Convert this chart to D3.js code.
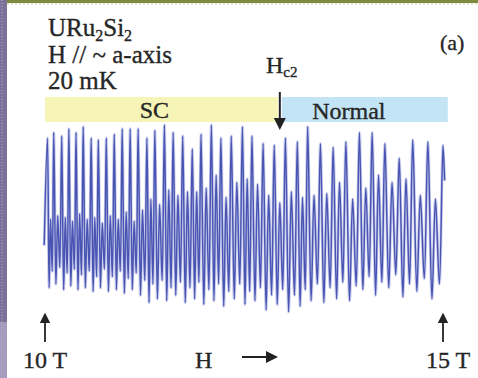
<!DOCTYPE html>
<html>
<head>
<meta charset="utf-8">
<script src="https://cdn.jsdelivr.net/npm/d3@7/dist/d3.min.js"></script>
<style>
  html, body { margin: 0; padding: 0; background: #fff; }
  svg { display: block; }
  text { font-family: "Liberation Serif", "Times New Roman", serif; fill: #262626; stroke: #262626; stroke-width: 0.35; }
</style>
</head>
<body>
<div id="chart"></div>
<script>
// field (T) of the main (tall) oscillation peaks
const peakField = [10.03, 10.11, 10.21, 10.30, 10.39, 10.48, 10.58, 10.67, 10.77, 10.87,
  10.97, 11.07, 11.17, 11.28, 11.38, 11.50, 11.61, 11.73, 11.85, 11.96,
  12.09, 12.21, 12.34, 12.48, 12.60, 12.74, 12.88, 13.02, 13.17, 13.30,
  13.46, 13.62, 13.78, 13.95, 14.11, 14.27, 14.45, 14.62, 14.81, 15.00];
// signal (a.u.) at tall peaks
const peakVal = [93, 96, 94, 98, 96, 99, 93, 92, 93, 95, 98, 98, 98, 93, 97, 100, 96, 94, 87, 95,
  100, 93, 94, 99, 94, 90, 89, 93, 91, 99, 90, 88, 91, 96, 96, 90, 82, 92, 91, 89];
// between two tall peaks: deep trough, secondary peak, shallow trough
const trough1Val = [12, 14, 11, 13, 11, 12, 10, 12, 10, 11, 9, 11, 8, 4, 6, 5, 8, 4, 6, 3,
  5, 2, 6, 3, 5, 0, 3, -1, 2, 5, 4, 6, 5, 11, 8, 12, 7, 10, 6];
const secondVal = [49, 51, 50, 48, 52, 49, 50, 47, 51, 49, 53, 48, 54, 60, 57, 65, 62, 64, 64, 66,
  73, 61, 69, 71, 68, 62, 58, 64, 61, 62, 63, 69, 60, 66, 73, 69, 71, 62, 60];
const trough2Val = [21, 23, 20, 22, 19, 21, 18, 22, 18, 21, 17, 20, 16, 14, 16, 12, 15, 12, 15, 11,
  14, 10, 14, 10, 12, 8, 11, 8, 11, 14, 12, 15, 13, 18, 15, 19, 14, 17, 14];
const leadIn = [9.99, 35];
const tailOut = [15.02, 70];
const hc2 = 12.95;
const fieldStart = 10, fieldEnd = 15;

const W = 478, H = 378;
const svg = d3.select("#chart").append("svg").attr("width", W).attr("height", H);

// slide frame bits
svg.append("rect").attr("x", 0).attr("y", 0).attr("width", 7).attr("height", H).attr("fill", "#7c7199");
svg.append("rect").attr("x", 0).attr("y", 322).attr("width", 7).attr("height", 56).attr("fill", "#a49bbd");
svg.append("line").attr("x1", 2).attr("x2", 2).attr("y1", 0).attr("y2", H)
  .attr("stroke", "#b3aacb").attr("stroke-width", 1).attr("stroke-dasharray", "1,2");
svg.append("rect").attr("x", 7).attr("y", 0).attr("width", W - 7).attr("height", 3).attr("fill", "#7f8c40");
svg.append("line").attr("x1", 7).attr("x2", W).attr("y1", 4).attr("y2", 4)
  .attr("stroke", "#c9cfa5").attr("stroke-width", 1).attr("stroke-dasharray", "2,2");

const x = d3.scaleLinear().domain([fieldStart, fieldEnd]).range([45, 443]);
const y = d3.scaleLinear().domain([0, 100]).range([310, 125]);

// bands
svg.append("rect").attr("x", x(fieldStart)).attr("y", 97).attr("width", x(hc2) - x(fieldStart) - 2).attr("height", 25)
  .attr("fill", "#f6f4b6");
svg.append("rect").attr("x", x(hc2) + 2).attr("y", 97).attr("width", x(15.06) - x(hc2) - 2).attr("height", 25)
  .attr("fill", "#c3e4f4");
svg.append("text").attr("x", (x(fieldStart) + x(hc2)) / 2 - 8).attr("y", 118).attr("text-anchor", "middle")
  .attr("font-size", 24).text("SC");
svg.append("text").attr("x", (x(hc2) + x(15.06)) / 2 - 15).attr("y", 119).attr("text-anchor", "middle")
  .attr("font-size", 24).text("Normal");

// build points: peak, trough, secondary, trough, next peak
const pts = [leadIn];
peakField.forEach(function (f, i) {
  pts.push([f, peakVal[i]]);
  if (i < peakField.length - 1) {
    const d = peakField[i + 1] - f;
    pts.push([f + d * 0.27, trough1Val[i]]);
    pts.push([f + d * 0.5, secondVal[i]]);
    pts.push([f + d * 0.76, trough2Val[i]]);
  }
});
pts.push(tailOut);

const line = d3.line()
  .x(function (d) { return x(d[0]); })
  .y(function (d) { return y(d[1]); })
  .curve(d3.curveCatmullRom.alpha(0.5));

svg.append("path").datum(pts).attr("d", line)
  .attr("fill", "none").attr("stroke", "#8a92d4").attr("stroke-width", 3).attr("opacity", 0.45);
svg.append("path").datum(pts).attr("d", line)
  .attr("fill", "none").attr("stroke", "#4a55b3").attr("stroke-width", 1.5);

// labels top-left
const t1 = svg.append("text").attr("x", 48).attr("y", 36).attr("font-size", 25);
t1.append("tspan").text("URu");
t1.append("tspan").attr("font-size", 16).attr("dy", 5).text("2");
t1.append("tspan").attr("dy", -5).text("Si");
t1.append("tspan").attr("font-size", 16).attr("dy", 5).text("2");
svg.append("text").attr("x", 48).attr("y", 63).attr("font-size", 25).text("H // ~ a-axis");
svg.append("text").attr("x", 48).attr("y", 89).attr("font-size", 25).text("20 mK");
svg.append("text").attr("x", 440).attr("y", 50).attr("font-size", 22).text("(a)");

// Hc2 marker
const hc = svg.append("text").attr("x", 266).attr("y", 73).attr("font-size", 24);
hc.append("tspan").text("H");
hc.append("tspan").attr("font-size", 15).attr("dy", 4).text("c2");

const defs = svg.append("defs");
defs.append("marker").attr("id", "ah").attr("viewBox", "0 0 10 10").attr("refX", 5).attr("refY", 5)
  .attr("markerWidth", 6).attr("markerHeight", 7).attr("orient", "auto-start-reverse")
  .append("path").attr("d", "M0,0 L10,5 L0,10 z").attr("fill", "#222");

svg.append("line").attr("x1", x(hc2)).attr("x2", x(hc2)).attr("y1", 92).attr("y2", 124)
  .attr("stroke", "#222").attr("stroke-width", 2).attr("marker-end", "url(#ah)");

// bottom field markers
[fieldStart, fieldEnd].forEach(function (f) {
  svg.append("line").attr("x1", x(f)).attr("x2", x(f)).attr("y1", 342).attr("y2", 318)
    .attr("stroke", "#222").attr("stroke-width", 1.8).attr("marker-end", "url(#ah)");
});
svg.append("text").attr("x", x(fieldStart)).attr("y", 368).attr("text-anchor", "middle").attr("font-size", 24).text("10 T");
svg.append("text").attr("x", x(fieldEnd) + 5).attr("y", 368).attr("text-anchor", "middle").attr("font-size", 24).text("15 T");
svg.append("text").attr("x", 195).attr("y", 368).attr("font-size", 24).text("H");
svg.append("line").attr("x1", 242).attr("x2", 272).attr("y1", 357).attr("y2", 357)
  .attr("stroke", "#222").attr("stroke-width", 2).attr("marker-end", "url(#ah)");
</script>
</body>
</html>
